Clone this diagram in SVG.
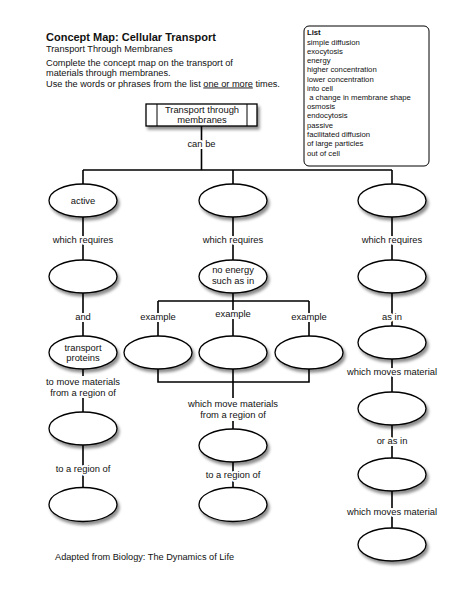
<svg xmlns="http://www.w3.org/2000/svg" width="474" height="613" viewBox="0 0 474 613">
<style>
text{font-family:"Liberation Sans",Arial,sans-serif;fill:#111}
.h{font-size:9.2px}
.lst{font-size:7.7px}
.lb{font-size:9.4px;text-anchor:middle;stroke:#fff;stroke-width:4;paint-order:stroke;stroke-linejoin:round}
.nt{font-size:9.4px;text-anchor:middle}
.c{stroke:#000;stroke-width:1.6;fill:none}
.e{fill:#fff;stroke:#000;stroke-width:1.3;filter:url(#sh)}
</style>
<defs>
<filter id="sh" x="-30%" y="-30%" width="170%" height="180%">
<feDropShadow dx="2" dy="3" stdDeviation="1.8" flood-color="#000" flood-opacity="0.45"/>
</filter>
</defs>
<rect width="474" height="613" fill="#fff"/>
<g id="header">
<text x="46" y="41" style="font-size:11px;font-weight:bold">Concept Map: Cellular Transport</text>
<text x="46" y="51.5" class="h">Transport Through Membranes</text>
<text x="46" y="65.5" class="h">Complete the concept map on the transport of</text>
<text x="46" y="76" class="h">materials through membranes.</text>
<text x="46" y="86.5" class="h">Use the words or phrases from the list <tspan text-decoration="underline">one or more</tspan> times.</text>
</g>
<g id="list">
<rect x="304" y="26" width="125" height="140" rx="5" fill="#fff" stroke="#000" stroke-width="1"/>
<text x="307" y="35" class="lst" style="font-weight:bold">List</text>
<text x="307" y="44.5" class="lst">simple diffusion</text>
<text x="307" y="54" class="lst">exocytosis</text>
<text x="307" y="63" class="lst">energy</text>
<text x="307" y="72" class="lst">higher concentration</text>
<text x="307" y="81.5" class="lst">lower concentration</text>
<text x="307" y="90.5" class="lst">into cell</text>
<text x="307" y="100" class="lst" xml:space="preserve"> a change in membrane shape</text>
<text x="307" y="109" class="lst">osmosis</text>
<text x="307" y="118" class="lst">endocytosis</text>
<text x="307" y="127.5" class="lst">passive</text>
<text x="307" y="136.5" class="lst">facilitated diffusion</text>
<text x="307" y="146" class="lst">of large particles</text>
<text x="307" y="155.5" class="lst">out of cell</text>
</g>
<g id="connectors">
<path class="c" d="M201.5 126V170M83 170H392M83 170V487M233 170V487M392 170V528M158 301H309M158 301V336M309 301V336M158 369V382H309V369"/>
</g>
<g id="root">
<rect x="146" y="104" width="111" height="22" fill="#fff" stroke="#000" stroke-width="1.3" filter="url(#sh)"/>
<path d="M157 104V126M247 104V126" stroke="#000" stroke-width="1"/>
<text x="202" y="112.5" class="nt">Transport through</text>
<text x="202" y="123" class="nt">membranes</text>
</g>
<g id="labels">
<rect x="40" y="376" width="86" height="22" fill="#fff"/>
<rect x="185" y="398" width="96" height="23" fill="#fff"/>
<text x="201.5" y="146.5" class="lb">can be</text>
<text x="83" y="242.5" class="lb">which requires</text>
<text x="233" y="242.5" class="lb">which requires</text>
<text x="392" y="242.5" class="lb">which requires</text>
<text x="83" y="319.5" class="lb">and</text>
<text x="158" y="320" class="lb">example</text>
<text x="233" y="316.5" class="lb">example</text>
<text x="309" y="319.5" class="lb">example</text>
<text x="392" y="319.5" class="lb">as in</text>
<text x="83" y="385" class="lb">to move materials</text>
<text x="83" y="395.5" class="lb">from a region of</text>
<text x="392" y="375" class="lb">which moves material</text>
<text x="233" y="407" class="lb">which move materials</text>
<text x="233" y="418" class="lb">from a region of</text>
<text x="83" y="472" class="lb">to a region of</text>
<text x="233" y="478" class="lb">to a region of</text>
<text x="392" y="443.5" class="lb">or as in</text>
<text x="392" y="515" class="lb">which moves material</text>
</g>
<g id="n-active"><ellipse class="e" cx="83" cy="200.5" rx="34" ry="16.5"/><text x="83" y="204" class="nt">active</text></g>
<g id="n-passive"><ellipse class="e" cx="233" cy="200.5" rx="34" ry="16.5"/></g>
<g id="n-c3a"><ellipse class="e" cx="392" cy="200.5" rx="34" ry="16.5"/></g>
<g id="n-c1b"><ellipse class="e" cx="83" cy="276.5" rx="34" ry="16.5"/></g>
<g id="n-noenergy"><ellipse class="e" cx="233" cy="276.5" rx="34" ry="16.5"/><text x="233" y="273" class="nt">no energy</text><text x="233" y="284" class="nt">such as in</text></g>
<g id="n-c3b"><ellipse class="e" cx="392" cy="276.5" rx="34" ry="16.5"/></g>
<g id="n-proteins"><ellipse class="e" cx="83" cy="352.5" rx="34" ry="16.5"/><text x="83" y="350.5" class="nt">transport</text><text x="83" y="361" class="nt">proteins</text></g>
<g id="n-ex1"><ellipse class="e" cx="158" cy="352.5" rx="34" ry="16.5"/></g>
<g id="n-ex2"><ellipse class="e" cx="233" cy="352.5" rx="34" ry="16.5"/></g>
<g id="n-ex3"><ellipse class="e" cx="309" cy="352.5" rx="34" ry="16.5"/></g>
<g id="n-c3c"><ellipse class="e" cx="392" cy="342.5" rx="34" ry="16.5"/></g>
<g id="n-c1d"><ellipse class="e" cx="83" cy="428.5" rx="34" ry="16.5"/></g>
<g id="n-c2d"><ellipse class="e" cx="233" cy="445.5" rx="34" ry="16.5"/></g>
<g id="n-c3d"><ellipse class="e" cx="392" cy="408.5" rx="34" ry="16.5"/></g>
<g id="n-c1e"><ellipse class="e" cx="83" cy="504.5" rx="34" ry="17"/></g>
<g id="n-c2e"><ellipse class="e" cx="233" cy="504.5" rx="34" ry="17"/></g>
<g id="n-c3e"><ellipse class="e" cx="392" cy="474.5" rx="34" ry="16.5"/></g>
<g id="n-c3f"><ellipse class="e" cx="392" cy="544.5" rx="34" ry="16.5"/></g>
<text x="55" y="560" style="font-size:9.2px">Adapted from Biology: The Dynamics of Life</text>
</svg>
